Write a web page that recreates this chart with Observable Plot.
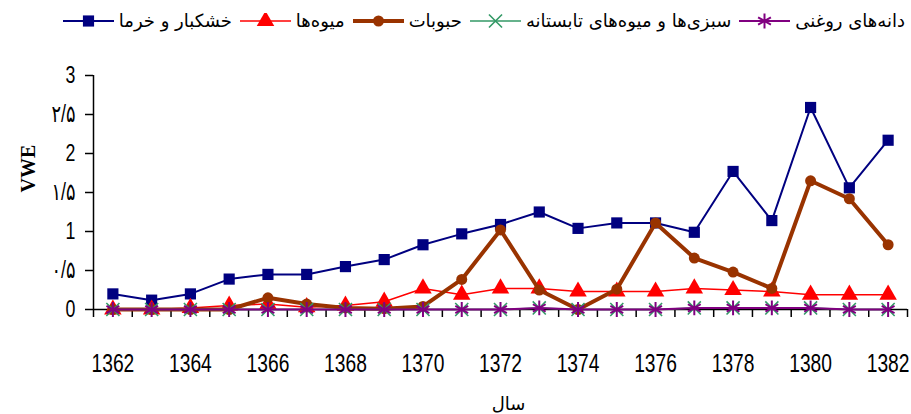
<!DOCTYPE html>
<html>
<head>
<meta charset="utf-8">
<script src="https://cdn.jsdelivr.net/npm/d3@7"></script>
<script src="https://cdn.jsdelivr.net/npm/@observablehq/plot@0.6"></script>
<style>
  body { margin: 0; background: #fff; width: 911px; height: 414px; overflow: hidden; }
  #legend { height: 36px; display: flex; flex-direction: row; direction: ltr; align-items: center; justify-content: flex-end; padding-right: 6px; padding-top: 5px; box-sizing: border-box; font-family: "DejaVu Sans", sans-serif; font-size: 18px; color: #000; }
  .item { display: flex; align-items: center; margin-left: 8px; }
  .item svg { margin-right: 5px; }
  .item span { direction: rtl; white-space: nowrap; }
  #chart svg { display: block; }
</style>
</head>
<body>
<div id="legend"></div>
<div id="chart"></div>
<script>
// Data
const years = [1362,1363,1364,1365,1366,1367,1368,1369,1370,1371,1372,1373,1374,1375,1376,1377,1378,1379,1380,1381,1382];
const seriesNames = ["خشکبار و خرما", "میوه‌ها", "حبوبات", "سبزی‌ها و میوه‌های تابستانه", "دانه‌های روغنی"];
const driedFruit = [0.20,0.12,0.20,0.39,0.45,0.45,0.55,0.64,0.83,0.97,1.09,1.25,1.04,1.11,1.11,0.99,1.77,1.14,2.59,1.56,2.17];
const fruits     = [0.00,0.00,0.02,0.05,0.07,0.03,0.05,0.10,0.27,0.19,0.27,0.27,0.23,0.23,0.23,0.27,0.25,0.23,0.19,0.19,0.19];
const legumes    = [0.00,0.00,0.00,0.00,0.15,0.07,0.02,0.01,0.04,0.385,1.02,0.25,0.00,0.26,1.11,0.66,0.48,0.27,1.65,1.42,0.83];
const summerVeg  = [0,0,0,0,0,0,0,0,0,0,0,0.02,0,0,0,0.02,0.02,0.02,0.02,0,0];
const oilseeds   = [0,0,0,0,0,0,0,0,0,0,0,0.02,0,0,0,0.02,0.02,0.02,0.02,0,0];
const yTicks = [0, 0.5, 1, 1.5, 2, 2.5, 3];
const yTickLabels = ["0", "۰/۵", "1", "۱/۵", "2", "۲/۵", "3"];
const xLabelYears = [1362,1364,1366,1368,1370,1372,1374,1376,1378,1380,1382];
const xTitle = "سال";
const yTitle = "VWE";

const styles = [
  {color: "#000080", width: 2, symbol: "square", r: 6.3, fill: true, sw: 0},
  {color: "#ff0000", width: 1.5, symbol: "triangle", r: 6.5, fill: true, sw: 0},
  {color: "#993300", width: 4, symbol: "circle", r: 5.5, fill: true, sw: 0},
  {color: "#339966", width: 1.5, symbol: "times", r: 6, fill: false, sw: 1.6},
  {color: "#800080", width: 2, symbol: "asterisk", r: 7, fill: false, sw: 2}
];
const allSeries = [driedFruit, fruits, legumes, summerVeg, oilseeds];

const rows = [];
allSeries.forEach((vals, si) => vals.forEach((v, i) => rows.push({series: si, year: years[i], value: v})));

const halfTicks = d3.range(1361.5, 1383, 1);

const marks = [];
marks.push(Plot.axisY({ticks: yTicks, tickFormat: d => yTickLabels[yTicks.indexOf(d)], tickSize: 8, tickPadding: 10, fontSize: 24, fontFamily: "Liberation Sans, DejaVu Sans, sans-serif", stroke: "#000", strokeWidth: 1.5, label: null}));
marks.push(Plot.axisX({ticks: halfTicks, tickFormat: () => "", tickSize: 8, stroke: "#000", strokeWidth: 1.5, label: null}));
marks.push(Plot.axisX({ticks: xLabelYears, tickFormat: d => String(d), tickSize: 0, tickPadding: 44, fontSize: 26, fontFamily: "Liberation Sans, sans-serif", label: null}));
marks.push(Plot.ruleX([1361.5], {y1: 0, y2: 3, stroke: "#000", strokeWidth: 1.5}));
marks.push(Plot.ruleY([0], {x1: 1361.5, x2: 1382.5, stroke: "#000", strokeWidth: 1.5}));

allSeries.forEach((vals, si) => {
  const st = styles[si];
  const data = rows.filter(d => d.series === si);
  marks.push(Plot.line(data, {x: "year", y: "value", stroke: st.color, strokeWidth: st.width}));
  if (st.fill) {
    marks.push(Plot.dot(data, {x: "year", y: "value", symbol: st.symbol, r: st.r, fill: st.color, stroke: "none"}));
  } else {
    marks.push(Plot.dot(data, {x: "year", y: "value", symbol: st.symbol, r: st.r, stroke: st.color, strokeWidth: st.sw, fill: "none"}));
  }
});

marks.push(Plot.text([xTitle], {frameAnchor: "bottom", dy: 100, dx: 8, fontSize: 18, fontFamily: "DejaVu Sans, sans-serif", fill: "#000"}));
marks.push(Plot.text([yTitle], {frameAnchor: "left", dx: -65, rotate: -90, fontSize: 20, fontWeight: "bold", fontFamily: "Liberation Serif, serif", fill: "#000"}));

const plot = Plot.plot({
  width: 911,
  height: 378,
  marginTop: 39,
  marginBottom: 105,
  marginLeft: 93,
  marginRight: 4,
  style: {background: "#fff", overflow: "visible"},
  x: {type: "linear", domain: [1361.5, 1382.5]},
  y: {domain: [0, 3]},
  marks
});
// narrow the tick-label glyphs horizontally (condensed look of the original)
d3.select(plot).selectAll("g[aria-label='x-axis tick label'] text, g[aria-label='y-axis tick label'] text").each(function() {
  const t = this.getAttribute("transform") || "";
  this.setAttribute("transform", t + " scale(0.74,1)");
});
document.getElementById("chart").appendChild(plot);

// Legend
const legend = document.getElementById("legend");
const symMap = {square: d3.symbolSquare, triangle: d3.symbolTriangle, circle: d3.symbolCircle, times: d3.symbolTimes, asterisk: d3.symbolAsterisk};
styles.forEach((st, si) => {
  const item = document.createElement("div");
  item.className = "item";
  const svg = d3.create("svg").attr("width", 51).attr("height", 16);
  svg.append("line").attr("x1", 0).attr("x2", 51).attr("y1", 8).attr("y2", 8).attr("stroke", st.color).attr("stroke-width", st.width);
  const path = d3.symbol(symMap[st.symbol], Math.PI * st.r * st.r)();
  const p = svg.append("path").attr("d", path).attr("transform", "translate(25.5,8)");
  if (st.fill) p.attr("fill", st.color); else p.attr("fill", "none").attr("stroke", st.color).attr("stroke-width", st.sw);
  item.appendChild(svg.node());
  const span = document.createElement("span");
  span.textContent = seriesNames[si];
  item.appendChild(span);
  legend.appendChild(item);
});
</script>
</body>
</html>
